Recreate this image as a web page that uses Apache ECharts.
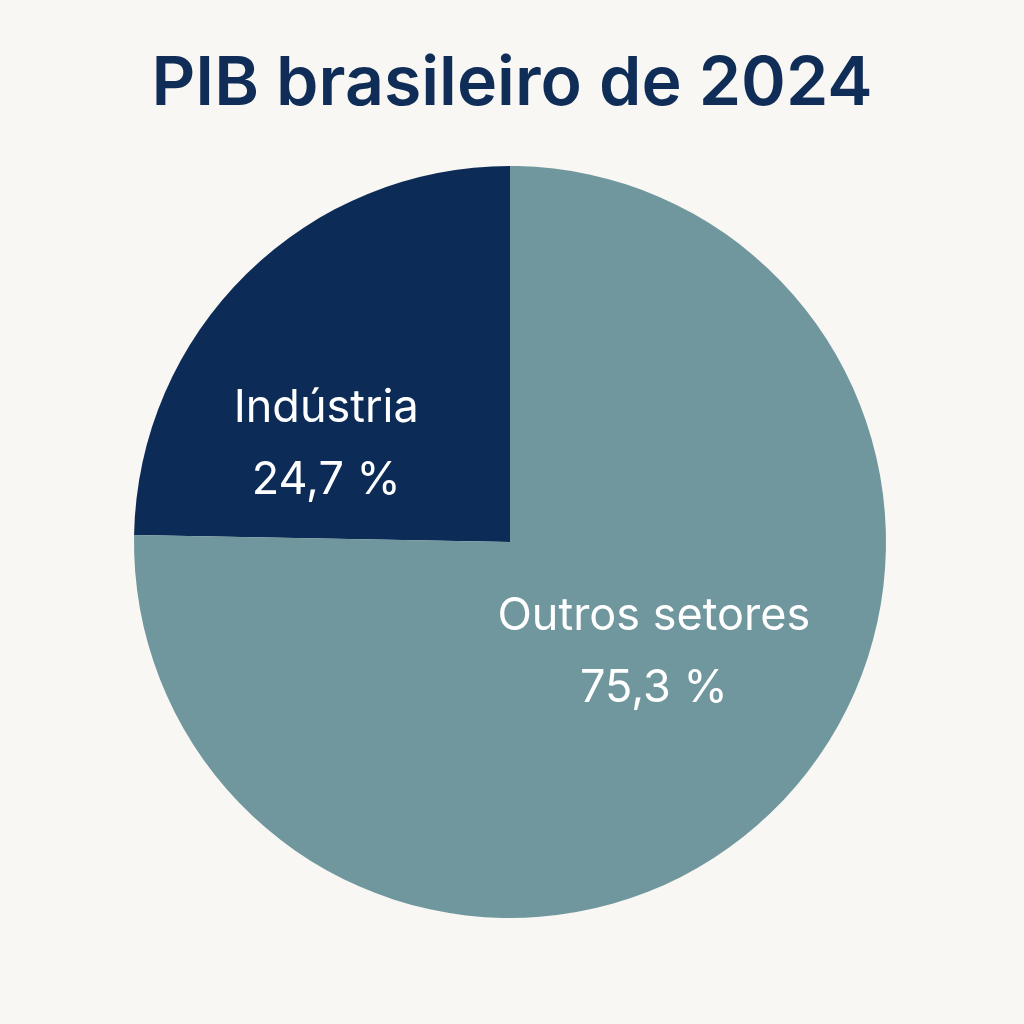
<!DOCTYPE html>
<html><head><meta charset="utf-8">
<script src="https://cdn.jsdelivr.net/npm/echarts@6/dist/echarts.min.js"></script>
<style>html,body{margin:0;background:#f8f7f3}#c{width:1024px;height:1024px}</style>
</head><body><div id="c"></div>
<script>
const categories = ["Indústria", "Outros setores"];
const values = [24.7, 75.3];
const labels = ["24,7 %", "75,3 %"];
const colors = ["#0c2c57", "#6f979d"];
const chart = echarts.init(document.getElementById('c'));
chart.setOption({
  backgroundColor: '#f8f7f3',
  title: {text: 'PIB brasileiro de 2024', left: 'center', top: 46,
    textStyle: {fontFamily: 'Inter', fontSize: 68, fontWeight: 600, color: '#0f2d57'}},
  series: [{
    type: 'pie', center: [510, 542], radius: [0, 376],
    startAngle: 90, clockwise: false, silent: true,
    data: categories.map((n, i) => ({name: n, value: values[i], itemStyle: {color: colors[i]}})),
    label: {position: 'inside', color: '#fff', fontFamily: 'Inter', fontSize: 45, lineHeight: 72,
      formatter: p => p.name + '\n' + labels[p.dataIndex]},
    labelLayout: p => p.dataIndex === 0 ? {dx: -50, dy: 39} : {dx: 10, dy: -26},
    labelLine: {show: false}
  }]
});
</script></body></html>
